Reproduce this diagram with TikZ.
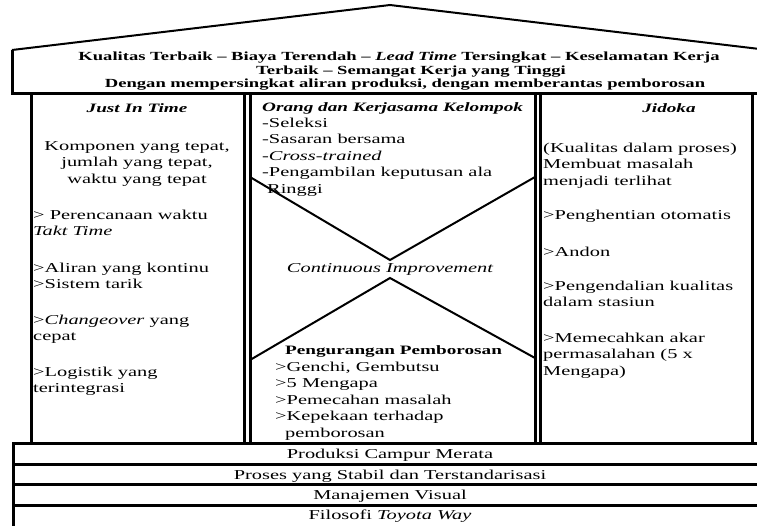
\documentclass[tikz,border=0pt]{standalone}
\usepackage{fontspec}
\setmainfont{Liberation Serif}[FakeStretch=1.5]
\newcommand{\bodyfont}{\fontsize{13.6}{16.8}\selectfont}
\newcommand{\headfont}{\fontsize{12.8}{16.8}\selectfont\bfseries}
\newcommand{\rooffont}{\fontsize{12.4}{13.5}\selectfont\bfseries}

\begin{document}
\begin{tikzpicture}[x=1pt,y=-1pt,
  wall/.style={line width=3pt},
  slope/.style={line width=2pt},
  body/.style={inner sep=0pt,font=\bodyfont,align=left,anchor=base west},
  mid/.style={inner sep=0pt,font=\bodyfont,align=center,anchor=base},
  title/.style={inner sep=0pt,font=\headfont\itshape,anchor=base}]
\useasboundingbox (0,0) rectangle (757,525);
\clip (0,0) rectangle (757,525);

\draw[wall] (12,50) -- (12,93) -- (768,93) -- (768,50);
\draw[slope] (12,50) -- (390,5) -- (768,50);
\node[mid,font=\rooffont] (goal) at (405,87.5)
  {\hspace*{-12pt}Kualitas Terbaik -- Biaya Terendah -- \textit{Lead Time} Tersingkat -- Keselamatan Kerja\\
   \hspace*{12pt}Terbaik -- Semangat Kerja yang Tinggi\\
   Dengan mempersingkat aliran produksi, dengan memberantas pemborosan};

\draw[wall] (31,93) rectangle (244,443);
\draw[wall] (250,93) rectangle (535,443);
\draw[wall] (540,93) rectangle (752,443);

\draw[slope] (250,177) -- (390,260) -- (535,177);
\draw[slope] (250,360) -- (390,278) -- (535,358);

\draw[wall] (13,443) rectangle (768,527);
\foreach \y in {464.5,484.5,505}
  \draw[wall] (13,\y) -- (768,\y);

\node[title] (jit) at (137,112) {Just In Time};
\node[mid] (jit0) at (137,183.6) {Komponen yang tepat,\\jumlah yang tepat,\\waktu yang tepat};
\node[body] (jit1) at (33,235.8) {> Perencanaan waktu\\\textit{Takt Time}};
\node[body] (jit2) at (33,288.8) {>Aliran yang kontinu\\>Sistem tarik};
\node[body] (jit3) at (33,340.8) {>\textit{Changeover} yang\\cepat};
\node[body] (jit4) at (33,392.8) {>Logistik yang\\terintegrasi};

\node[title,anchor=base west] (team) at (262,111) {Orang dan Kerjasama Kelompok};
\node[body,font=\fontsize{13.6}{16.5}\selectfont] (team1) at (262,193)
  {-Seleksi\\-Sasaran bersama\\-\textit{Cross-trained}\\-Pengambilan keputusan ala\\\hspace*{5pt}Ringgi};
\node[mid,font=\bodyfont\itshape] (ci) at (390,272) {Continuous Improvement};
\node[body,font=\headfont] (waste) at (285,354) {Pengurangan Pemborosan};
\node[body,font=\fontsize{13.6}{16.6}\selectfont] (waste1) at (275,437.4)
  {>Genchi, Gembutsu\\>5 Mengapa\\>Pemecahan masalah\\>Kepekaan terhadap\\\hspace*{10pt}pemborosan};

\node[title] (jid) at (669,112) {Jidoka};
\node[body] (jid0) at (543,185.6) {(Kualitas dalam proses)\\Membuat masalah\\menjadi terlihat};
\node[body] (jid1) at (543,219) {>Penghentian otomatis};
\node[body] (jid2) at (543,256) {>Andon};
\node[body] (jid3) at (543,306.8) {>Pengendalian kualitas\\dalam stasiun};
\node[body] (jid4) at (543,375.6) {>Memecahkan akar\\permasalahan (5 x\\Mengapa)};

\node[mid] (base1) at (390,458.5) {Produksi Campur Merata};
\node[mid] (base2) at (390,479) {Proses yang Stabil dan Terstandarisasi};
\node[mid] (base3) at (390,499) {Manajemen Visual};
\node[mid] (base4) at (390,519.5) {Filosofi \textit{Toyota Way}};
\end{tikzpicture}
\end{document}
